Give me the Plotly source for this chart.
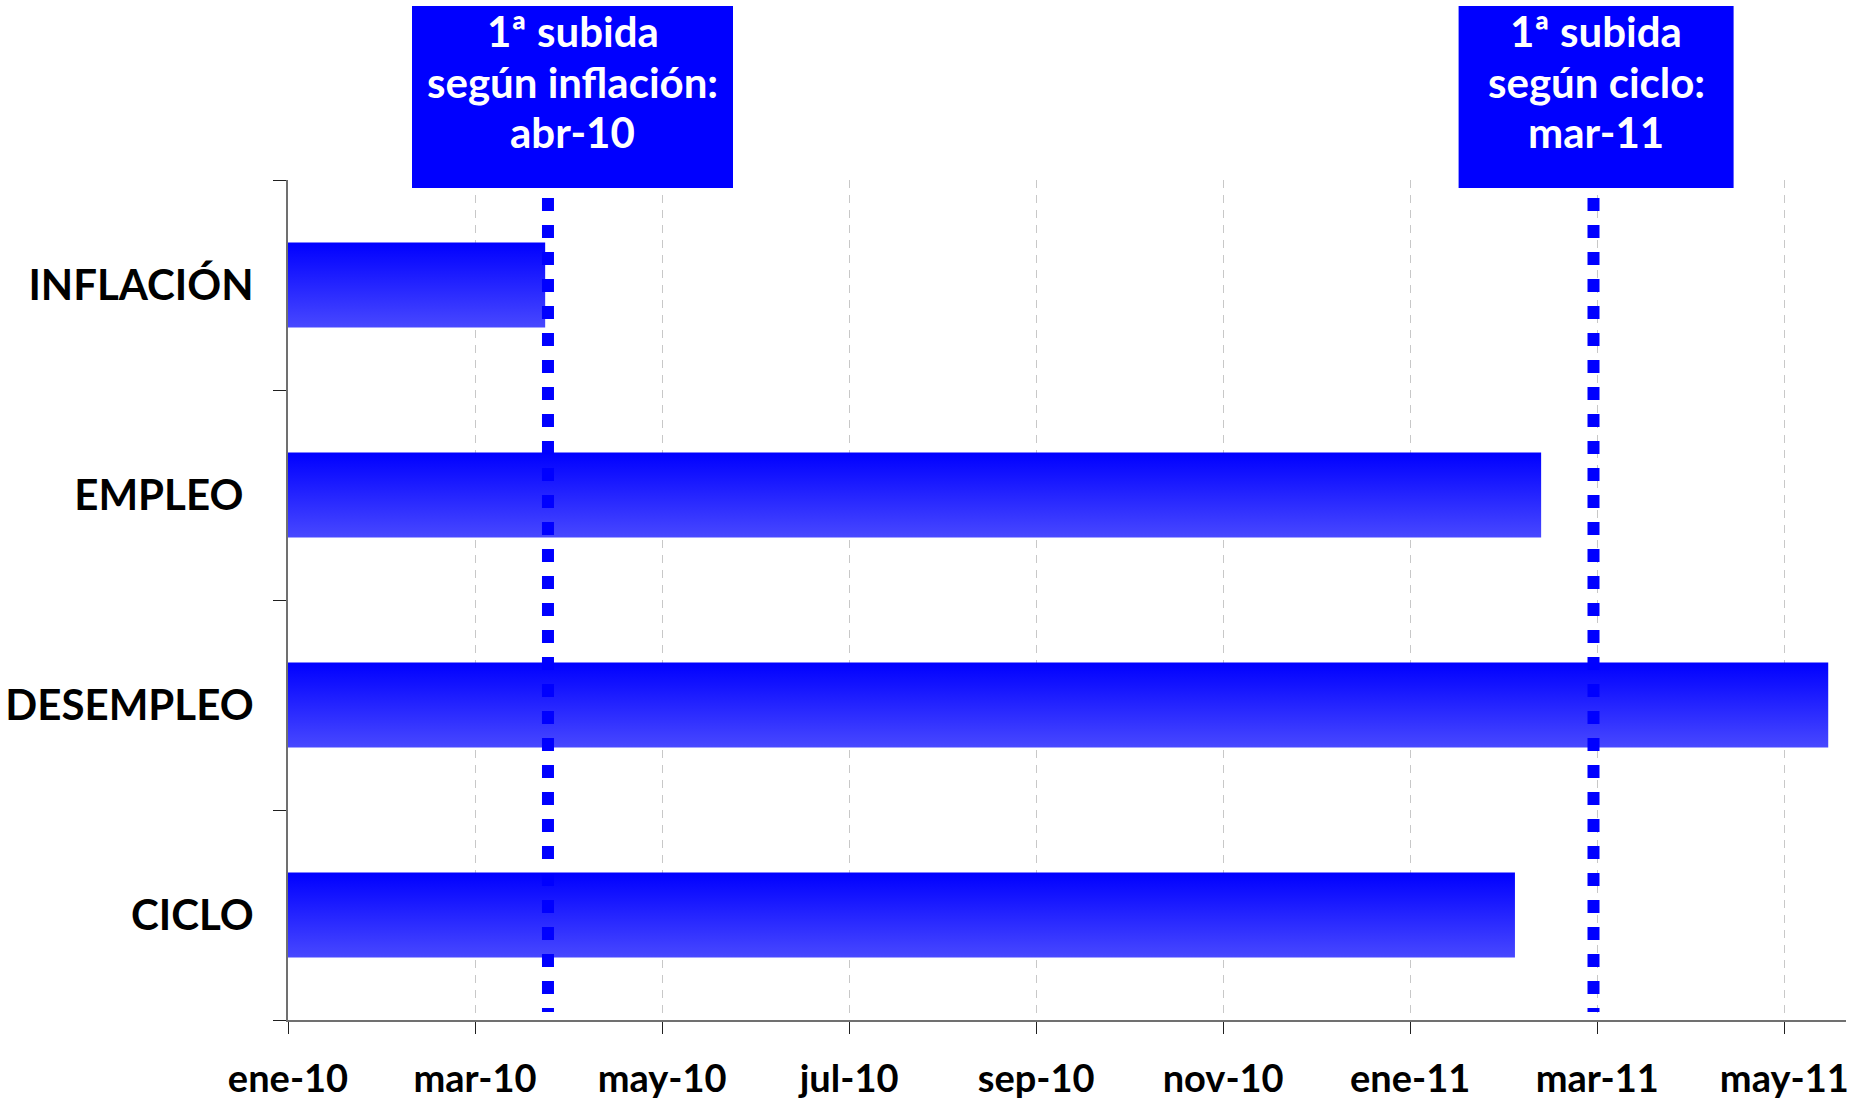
import plotly.graph_objects as go

# ---- data ----
categories = ["INFLACIÓN", "EMPLEO\u00a0", "DESEMPLEO", "CICLO"]
months_to_first_hike = [2.75, 13.40, 16.47, 13.12]   # months since ene-10
event_months = [2.78, 13.96]
event_labels = [["1ª subida", "según inflación:", "abr-10"],
                ["1ª subida", "según ciclo:", "mar-11"]]
tick_months = [0, 2, 4, 6, 8, 10, 12, 14, 16]
tick_labels = ["ene-10", "mar-10", "may-10", "jul-10", "sep-10",
               "nov-10", "ene-11", "mar-11", "may-11"]

FONT = "Lato"
BLUE = "#0000FF"
n = len(categories)
ypos = list(range(n - 1, -1, -1))   # first category at top
half = 0.2025

fig = go.Figure()
for cat, val, yc in zip(categories, months_to_first_hike, ypos):
    fig.add_trace(go.Scatter(
        x=[0, val, val, 0, 0],
        y=[yc - half, yc - half, yc + half, yc + half, yc - half],
        mode="lines", fill="toself",
        line=dict(width=0, color=BLUE),
        fillgradient=dict(type="vertical",
                          colorscale=[[0, "#4848FF"], [1, "#0000FF"]]),
        hoverinfo="skip", showlegend=False, name=cat,
    ))

# event lines (dotted) and label boxes
boxes = [(412, 733), (1458.6, 1733.6)]
line_centers = [31, 82, 132]
L, R, T, B = 288, 21, 180, 89
W = 1867 - L - R
H = 1109 - T - B
def px_x(p):
    return (p - L) / W
def px_y(p):
    return (1109 - B - p) / H

for xm, lab, (bx0, bx1) in zip(event_months, event_labels, boxes):
    fig.add_shape(type="line", xref="x", yref="paper",
                  x0=xm, x1=xm, y0=px_y(198), y1=px_y(1012),
                  line=dict(color=BLUE, width=12, dash="13px,14px"))
    fig.add_shape(type="rect", xref="paper", yref="paper",
                  x0=px_x(bx0), x1=px_x(bx1), y0=px_y(188), y1=px_y(6),
                  fillcolor=BLUE, line=dict(width=0), layer="above")
    for txt, yc in zip(lab, line_centers):
        fig.add_annotation(xref="paper", yref="paper",
                           x=(px_x(bx0) + px_x(bx1)) / 2, y=px_y(yc),
                           xanchor="center", yanchor="middle",
                           text=txt, showarrow=False, align="center",
                           font=dict(family=FONT, size=42, color="white", weight="bold"))

fig.update_xaxes(
    range=[0, 16.66], tickvals=tick_months, ticktext=tick_labels,
    showline=True, linecolor="#707070", linewidth=2,
    ticks="outside", ticklen=12, tickcolor="#202020", tickwidth=1,
    showgrid=True, gridcolor="#c8c8c8", gridwidth=1, griddash="8px,7px",
    zeroline=False, ticklabelstandoff=12, automargin=False,
    tickfont=dict(family=FONT, size=38, color="black", weight="bold"),
)
fig.update_yaxes(
    range=[-0.5, n - 0.5], tickvals=ypos, ticktext=categories,
    showline=True, linecolor="#707070", linewidth=2,
    ticks="", showgrid=False, zeroline=False, ticklabelstandoff=24,
    automargin=False,
    minor=dict(tickvals=[v - 0.5 for v in range(n + 1)], ticks="outside",
               ticklen=13, tickcolor="#202020", tickwidth=1, showgrid=False),
    tickfont=dict(family=FONT, size=42, color="black", weight="bold"),
)
fig.update_layout(
    width=1867, height=1109,
    margin=dict(l=L, r=R, t=T, b=B),
    plot_bgcolor="white", paper_bgcolor="white",
    showlegend=False,
)
fig.write_html("out.html")
